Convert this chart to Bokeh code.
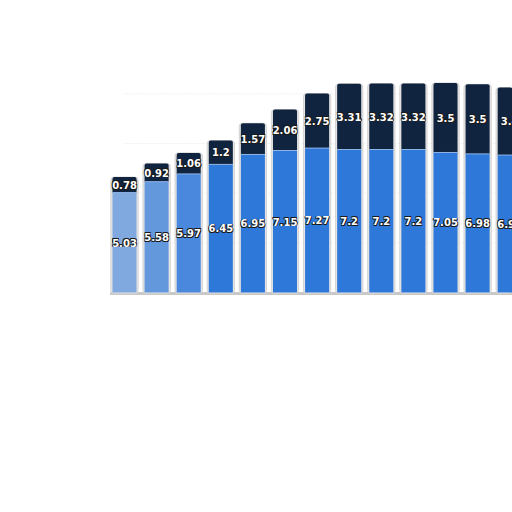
from bokeh.plotting import figure
from bokeh.models import ColumnDataSource, Range1d
from bokeh.embed import file_html
from bokeh.resources import INLINE
from bokeh.core.properties import value

# data
bottom_vals = [5.03, 5.58, 5.97, 6.45, 6.95, 7.15, 7.27, 7.2, 7.2, 7.2, 7.05, 6.98, 6.92]
top_vals = [0.78, 0.92, 1.06, 1.2, 1.57, 2.06, 2.75, 3.31, 3.32, 3.32, 3.5, 3.5, 3.4]
bottom_labels = ["5.03", "5.58", "5.97", "6.45", "6.95", "7.15", "7.27", "7.2", "7.2", "7.2", "7.05", "6.98", "6.92"]
top_labels = ["0.78", "0.92", "1.06", "1.2", "1.57", "2.06", "2.75", "3.31", "3.32", "3.32", "3.5", "3.5", "3.4"]
grid_ticks = [2.5, 5.0, 7.5, 10.0]
blue_alpha = [0.55, 0.7, 0.85, 1, 1, 1, 1, 1, 1, 1, 1, 1, 1]

n = len(bottom_vals)
xs = list(range(n))
totals = [b + t for b, t in zip(bottom_vals, top_vals)]
src = ColumnDataSource(dict(
    x=xs, b=bottom_vals, t=top_vals, tot=totals,
    bmid=[b / 2 for b in bottom_vals],
    tmid=[b + t / 2 for b, t in zip(bottom_vals, top_vals)],
    bl=bottom_labels, tl=top_labels, ba=blue_alpha,
))

W, H = 512, 504
p = figure(width=W, height=H, output_backend="svg", toolbar_location=None,
           x_range=Range1d(-124 / 32.1, (W - 124) / 32.1),
           y_range=Range1d(-(H - 292) / 19.86, 292 / 19.86),
           min_border=0)
p.axis.visible = False
p.grid.visible = False
p.outline_line_color = None
p.background_fill_color = "white"
p.border_fill_color = "white"

# faint grid lines
for g in grid_ticks:
    p.segment(x0=0, x1=n - 0.5, y0=g, y1=g, line_color="#e2e2e2", line_width=1, line_dash="1 2")

# baseline
p.segment(x0=-0.45, x1=n - 0.5, y0=-0.05, y1=-0.05, line_color="#c8c8c8", line_width=3)

# shadow / border
p.vbar(x="x", width=0.85, bottom=-0.05, top="tot", source=src,
       fill_color="#e4e4e4", line_color="#d4d4d4", line_width=1, border_radius=3)

p.vbar(x="x", width=0.75, bottom=0, top="b", source=src,
       fill_color="#2e78da", fill_alpha="ba", line_color=None)
p.vbar(x="x", width=0.75, bottom="b", top="tot", source=src,
       fill_color="#10243f", line_color=None, border_radius=[2, 2, 0, 0])
p.segment(x0=[x - 0.375 for x in xs], x1=[x + 0.375 for x in xs], y0=bottom_vals, y1=bottom_vals,
          line_color="#8fb4e6", line_width=1)

common = dict(text_font=value("DejaVu Sans"), text_font_size="10px",
              text_font_style="bold", text_align="center", text_baseline="middle")
for col, ycol in (("bl", "bmid"), ("tl", "tmid")):
    for dx, dy in ((1, 1), (-1, 1), (1, -1), (-1, -1)):
        p.text(x="x", y=ycol, text=col, source=src, text_color="#1a1a1a",
               x_offset=dx * 0.8, y_offset=dy * 0.8, **common)
    p.text(x="x", y=ycol, text=col, source=src, text_color="white", **common)

open("out.html", "w").write(file_html(p, INLINE))
